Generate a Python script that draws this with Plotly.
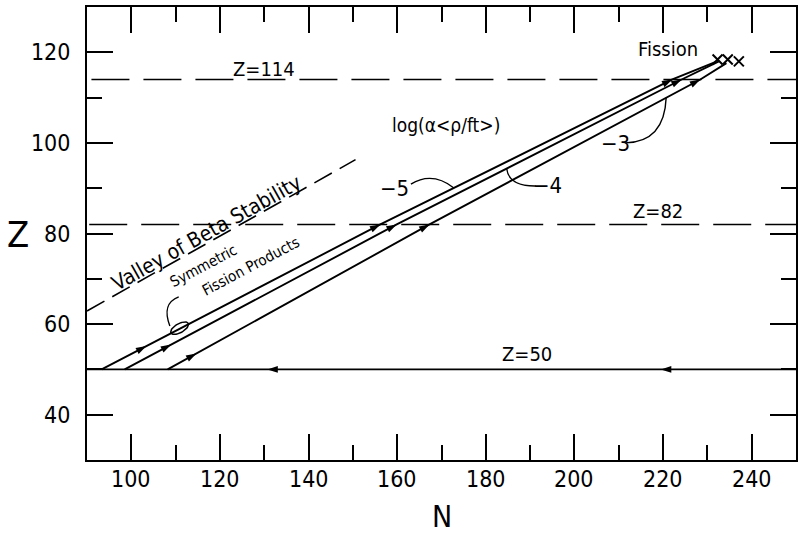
import numpy as np
import plotly.graph_objects as go

# ---- r-process paths in the (N, Z) plane, one per log(a<p/ft>) value ----
path5_N = [93.3, 156.2, 222.1, 231.9]
path5_Z = [50.0, 82.0, 114.0, 117.9]
path4_N = [98.5, 159.9, 224.2, 232.6]
path4_Z = [50.0, 82.0, 114.0, 118.0]
path3_N = [108.2, 167.3, 228.4, 234.3]
path3_Z = [50.0, 82.0, 114.0, 117.6]

# flow along the closed shell Z = 50 (runs right to left)
z50_N = [250.0, 90.0]
z50_Z = [50.0, 50.0]

# arrowhead positions (N) along each path
arrows5 = [103.4, 156.2, 222.1]
arrows4 = [109.0, 159.9, 224.2]
arrows3 = [114.7, 167.3, 228.4]
arrows50 = [219.5, 130.7]

# fission termination points
fission_N = [232.3, 234.6, 237.1]
fission_Z = [118.4, 118.4, 118.0]

# valley of beta stability
valley_N = [90.0, 150.6]
valley_Z = [62.9, 96.3]

# closed proton shells drawn as dashed lines
shell_Z = [114, 82]
shell_N0 = [91.0, 90.5]

# symmetric fission products
sym_N = 110.9
sym_Z = 59.1

# axes
x_range = [90, 250]
y_range = [30, 130]
x_ticks = [100, 120, 140, 160, 180, 200, 220, 240]
x_minor = [110, 130, 150, 170, 190, 210, 230]
y_ticks = [40, 60, 80, 100, 120]
y_minor = [50, 70, 90, 110]

W, H = 799, 536
M = dict(l=87, r=1, t=7, b=76)
px_per_N = (W - M["l"] - M["r"]) / (x_range[1] - x_range[0])
px_per_Z = (H - M["t"] - M["b"]) / (y_range[1] - y_range[0])

FONT = "DejaVu Sans Condensed"
INK = "black"
LW = 1.9

fig = go.Figure()


def line(xs, ys, dash="solid", width=LW):
    fig.add_trace(go.Scatter(x=xs, y=ys, mode="lines",
                             line=dict(color=INK, width=width, dash=dash),
                             hoverinfo="skip", showlegend=False))


def arrowheads(pN, pZ, at, step):
    # each head is a two-point marker trace; the marker turns to face
    # the direction from the first (hidden) point to the second
    for n in at:
        xs = [n - step, n]
        ys = [float(np.interp(x, pN, pZ)) if pN[0] < pN[-1]
              else float(np.interp(x, pN[::-1], pZ[::-1])) for x in xs]
        fig.add_trace(go.Scatter(
            x=xs, y=ys, mode="markers",
            marker=dict(symbol="arrow", size=[0, 11], color=INK,
                        opacity=[0, 1], angleref="previous",
                        line=dict(width=0)),
            hoverinfo="skip", showlegend=False))


# dashed closed shells
for z, n0 in zip(shell_Z, shell_N0):
    line([n0, x_range[1]], [z, z], dash="38px,14px", width=1.5)

# valley of beta stability
line(valley_N, valley_Z, dash="20px,9px", width=1.6)

# Z = 50 flow line and the three paths
line(z50_N, z50_Z)
for pN, pZ in [(path5_N, path5_Z), (path4_N, path4_Z), (path3_N, path3_Z)]:
    line(pN, pZ)

arrowheads(path5_N, path5_Z, arrows5, 1.0)
arrowheads(path4_N, path4_Z, arrows4, 1.0)
arrowheads(path3_N, path3_Z, arrows3, 1.0)
arrowheads(z50_N, z50_Z, arrows50, -1.0)

# fission end points
fig.add_trace(go.Scatter(x=fission_N, y=fission_Z, mode="markers",
                         marker=dict(symbol="x-thin", size=10,
                                     line=dict(color=INK, width=2)),
                         hoverinfo="skip", showlegend=False))

# ellipse marking the symmetric fission products
theta = np.deg2rad(29.3)
t = np.linspace(0, 2 * np.pi, 60)
a, b = 10.0, 4.5
dx = a * np.cos(t) * np.cos(theta) - b * np.sin(t) * np.sin(theta)
dy = a * np.cos(t) * np.sin(theta) + b * np.sin(t) * np.cos(theta)
fig.add_trace(go.Scatter(x=sym_N + dx / px_per_N, y=sym_Z + dy / px_per_Z,
                         mode="lines", line=dict(color=INK, width=1.5),
                         hoverinfo="skip", showlegend=False))


# curved leader lines (quadratic / cubic Bezier paths in data units)
def on(pN, pZ, n):
    return n, float(np.interp(n, pN, pZ))


def bez(*pts):
    cmd = "M {},{} ".format(*pts[0])
    if len(pts) == 3:
        cmd += "Q {},{} {},{}".format(*pts[1], *pts[2])
    else:
        cmd += "C {},{} {},{} {},{}".format(*pts[1], *pts[2], *pts[3])
    fig.add_shape(type="path", path=cmd, xref="x", yref="y",
                  line=dict(color=INK, width=1.4))


bez((163.1, 90.9), (167.9, 93.8), on(path5_N, path5_Z, 172.8))
bez((191.3, 90.5), (185.2, 90.4), on(path4_N, path4_Z, 184.7))
bez((211.5, 100.0), (220.3, 100.2), on(path3_N, path3_Z, 220.7))
bez((108.7, 59.6), (107.5, 62.7), (107.8, 64.9), (110.7, 66.0))


def label(txt, x, y, size=20, angle=0, xref="x", yref="y",
          anchor="center", vanchor="middle"):
    fig.add_annotation(text=txt, x=x, y=y, xref=xref, yref=yref,
                       showarrow=False, textangle=angle, xanchor=anchor,
                       yanchor=vanchor,
                       font=dict(family=FONT, size=size, color=INK))


label("Z=114", 130.0, 116.3)
label("Z=82", 218.9, 85.0)
label("Z=50", 189.2, 53.4)
label("Fission", 221.2, 120.7)
label("log(α&lt;ρ/ft&gt;)", 171.0, 104.0, size=19)
label("−5", 159.3, 90.0, size=22)
label("−4", 194.0, 90.5, size=22)
label("−3", 209.3, 99.8, size=22)
label("Valley of Beta Stability", 117.0, 80.1, size=21, angle=-29.3)
label("Symmetric", 116.3, 72.8, size=15, angle=-28)
label("Fission Products", 127.1, 72.8, size=15, angle=-28)

# N tick labels set just under the frame
for v in x_ticks:
    label(str(v), v, -0.008, size=23, yref="paper", vanchor="top")

# axis titles kept upright
label("Z", -0.097, 0.497, size=36, xref="paper", yref="paper")
label("N", 0.5007, -0.124, size=30, xref="paper", yref="paper")

axis_common = dict(
    showgrid=False, zeroline=False, showline=True, linecolor=INK,
    linewidth=2, mirror="ticks", ticks="inside", ticklen=26, tickwidth=2,
    tickcolor=INK, tickfont=dict(family=FONT, size=23, color=INK),
)

fig.update_xaxes(range=x_range, tickvals=x_ticks, showticklabels=False,
                 minor=dict(tickvals=x_minor, ticks="inside", ticklen=15,
                            tickwidth=2, tickcolor=INK),
                 **axis_common)
fig.update_yaxes(range=y_range, tickvals=y_ticks, ticklabelstandoff=10,
                 minor=dict(tickvals=y_minor, ticks="inside", ticklen=15,
                            tickwidth=2, tickcolor=INK),
                 **axis_common)

fig.update_layout(width=W, height=H, margin=M, paper_bgcolor="white",
                  plot_bgcolor="white", showlegend=False)

fig.write_html("out.html")
